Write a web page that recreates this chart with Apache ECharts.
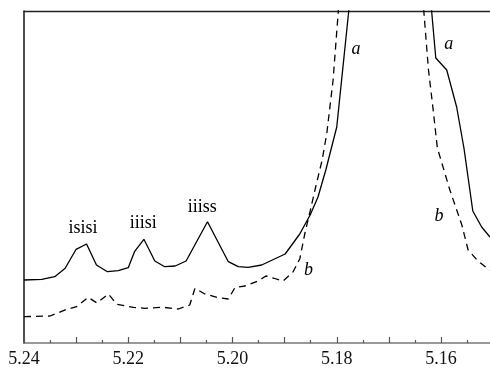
<!DOCTYPE html>
<html><head><meta charset="utf-8">
<script src="https://cdn.jsdelivr.net/npm/echarts@6/dist/echarts.min.js"></script>
<style>html,body{margin:0;padding:0;background:#fff}#c{width:490px;height:372px}</style>
</head><body><div id="c"></div>
<script>
// Chemical shift (ppm) and intensity (arbitrary units)
var shiftA = [5.2400,5.2366,5.2341,5.2321,5.2300,5.2280,5.2261,5.2240,5.2219,5.2200,5.2188,5.2170,5.2149,5.2130,5.2110,5.2089,5.2048,5.2008,5.1989,5.1970,5.1944,5.1899,5.1871,5.1851,5.1836,5.1821,5.1800,5.1777,5.1770,5.1623,5.1618,5.1610,5.1589,5.1570,5.1556,5.1539,5.1522,5.1506];
var intensityA = [63,63.7,66.3,74.7,93.7,99,78,71.3,72.3,75.3,91.3,103.7,82,76.3,77,82,121.3,81.3,76.3,75.7,78,89,109,128,146,173,216,332,363,363,332,285,273,236,195,132,116,106];
var shiftB = [5.2400,5.2350,5.2318,5.2299,5.2277,5.2260,5.2238,5.2222,5.2190,5.2168,5.2133,5.2104,5.2082,5.2072,5.2053,5.2027,5.2008,5.1995,5.1976,5.1950,5.1936,5.1922,5.1903,5.1884,5.1871,5.1861,5.1851,5.1840,5.1828,5.1819,5.1807,5.1797,5.1793,5.1637,5.1633,5.1624,5.1615,5.1607,5.1583,5.1560,5.1548,5.1529,5.1512,5.1506];
var intensityB = [26.3,27,33.7,36.3,45.7,40,49,38.7,35.7,34.7,35.7,34,38,54.7,49,45.3,44,55.7,57,62.3,67,65,62,71,84,110,132,157,183,210,263,332,363,363,332,273,233,195,153,118,93,82,75,73];
var annText = ['isisi','iiisi','iiiss','a','a','b','b'];
var annShift = [5.2287,5.2171,5.2058,5.1763,5.1585,5.1854,5.1604];
var annInt = [115,120,136,294,299,73,127];
var annItalic = [false,false,false,true,true,true,true];
var tickLabels = [5.24,5.22,5.20,5.18,5.16];
var majorTicks = [5.24,5.23,5.22,5.21,5.20,5.19,5.18,5.17,5.16];
var minorTicks = [5.235,5.225,5.215,5.205,5.195,5.185,5.175,5.165,5.155];

function pairs(xs, ys){ return xs.map(function(x,i){ return [x, ys[i]]; }); }
var serif = "'Liberation Serif','DejaVu Serif',serif";
var XMIN = 5.1506, XMAX = 5.24;
var chart = echarts.init(document.getElementById('c'), null, {renderer:'canvas'});
chart.setOption({
  animation:false,
  grid:{left:24,right:0,top:11,bottom:29,containLabel:false},
  xAxis:[{
    type:'value', min:XMIN, max:XMAX, inverse:true,
    axisLine:{show:true,onZero:false,lineStyle:{color:'#777',width:1.6}},
    axisTick:{show:true,inside:true,length:6,customValues:majorTicks,lineStyle:{color:'#555',width:1.2}},
    splitLine:{show:false},
    axisLabel:{margin:7,color:'#111',fontSize:18,fontFamily:serif,customValues:tickLabels,
      formatter:function(v){ return Number(v).toFixed(2); }}
  },{
    type:'value', position:'bottom', min:XMIN, max:XMAX, inverse:true,
    axisLine:{show:false,onZero:false},
    axisTick:{show:true,inside:true,length:3,customValues:minorTicks,lineStyle:{color:'#555',width:1.2}},
    axisLabel:{show:false}, splitLine:{show:false}
  },{
    type:'value', position:'top', min:XMIN, max:XMAX, inverse:true,
    axisLine:{show:true,onZero:false,lineStyle:{color:'#222',width:1.4}},
    axisTick:{show:false}, axisLabel:{show:false}, splitLine:{show:false}
  }],
  yAxis:{type:'value',min:0,max:332,
    axisLine:{show:true,onZero:false,lineStyle:{color:'#222',width:1.6}},
    axisTick:{show:false},axisLabel:{show:false},splitLine:{show:false}},
  series:[
    {type:'line',data:pairs(shiftA,intensityA),showSymbol:false,symbol:'none',clip:true,
     lineStyle:{color:'#000',width:1.3}},
    {type:'line',data:pairs(shiftB,intensityB),showSymbol:false,symbol:'none',clip:true,
     lineStyle:{color:'#000',width:1.3,type:[7,5]}}
  ]
});
var g = annText.map(function(t,i){
  var p = chart.convertToPixel({gridIndex:0},[annShift[i],annInt[i]]);
  return {type:'text',x:p[0],y:p[1],style:{text:t,fill:'#000',font:(annItalic[i]?'italic ':'')+'18px '+serif,align:'center',verticalAlign:'middle'}};
});
chart.setOption({graphic:g});
</script></body></html>
